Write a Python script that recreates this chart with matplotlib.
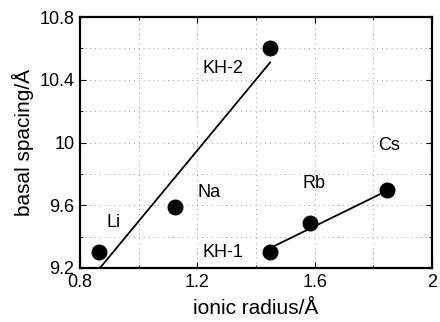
import matplotlib.pyplot as plt
from matplotlib.ticker import MultipleLocator

plt.rcParams['font.family'] = ['Liberation Sans', 'DejaVu Sans']

# points (ionic radius / basal spacing)
labels = ["Li", "Na", "KH-2", "KH-1", "Rb", "Cs"]
radius = [0.865, 1.124, 1.448, 1.448, 1.585, 1.848]
spacing = [9.30, 9.59, 10.60, 9.30, 9.49, 9.70]

# label anchor positions (data coords)
label_x = [0.892, 1.199, 1.219, 1.219, 1.560, 1.816]
label_y = [9.49, 9.68, 10.47, 9.30, 9.74, 9.98]

# fitted lines
fit1_x = [0.868, 1.448]
fit1_y = [9.20, 10.51]
fit2_x = [1.448, 1.844]
fit2_y = [9.327, 9.69]

fig = plt.figure(figsize=(4.4, 3.22), dpi=100)
ax = fig.add_axes([80 / 440, 54 / 322, 352 / 440, 251 / 322])

ax.plot(fit1_x, fit1_y, color="black", lw=1.3)
ax.plot(fit2_x, fit2_y, color="black", lw=1.3)
ax.scatter(radius, spacing, s=110, color="black", zorder=3)

for lab, x, y in zip(labels, label_x, label_y):
    ax.text(x, y, lab, fontsize=13, ha="left", va="center")

ax.set_xlim(0.8, 2.0)
ax.set_ylim(9.2, 10.8)
ax.xaxis.set_major_locator(MultipleLocator(0.4))
ax.yaxis.set_major_locator(MultipleLocator(0.4))
ax.xaxis.set_minor_locator(MultipleLocator(0.2))
ax.yaxis.set_minor_locator(MultipleLocator(0.2))
ax.xaxis.set_major_formatter(plt.FuncFormatter(lambda v, p: f"{v:g}"))
ax.yaxis.set_major_formatter(plt.FuncFormatter(lambda v, p: f"{v:g}"))
ax.grid(which="both", color="#999999", linestyle=(0, (1, 4)), lw=0.7)
ax.tick_params(which="both", direction="in", top=True, right=True, labelsize=13)
ax.tick_params(which="major", length=4, pad=4)
ax.tick_params(which="minor", length=2)
for s in ax.spines.values():
    s.set_linewidth(1.6)

ax.set_xlabel("ionic radius/Å", fontsize=15, labelpad=6)
ax.set_ylabel("basal spacing/Å", fontsize=15, labelpad=4)

fig.savefig("out.png", dpi=100)
